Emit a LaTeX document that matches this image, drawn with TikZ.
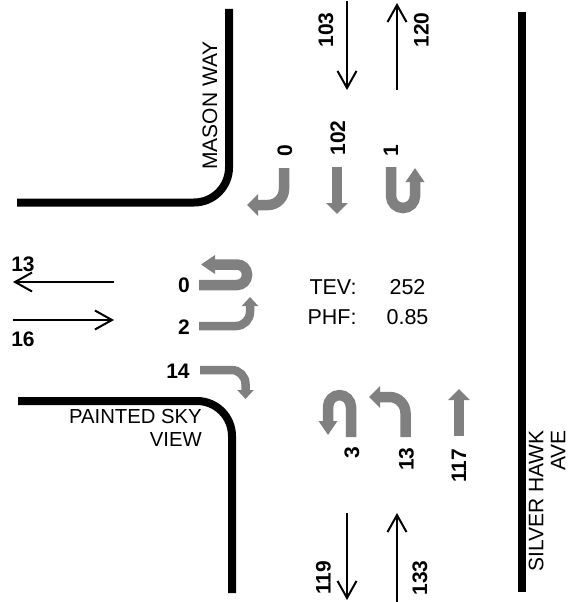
\documentclass[tikz,border=0pt]{standalone}
\usepackage{fontspec}
\setmainfont{Liberation Sans}
\usetikzlibrary{arrows.meta}
\tikzset{
    road/.style={line width=8pt, black},
    flow/.style={line width=2pt, black, -{Straight Barb[length=17pt, width=19pt, line width=2pt]}},
    turn/.style={line width=10.5pt, gray, rounded corners=#1, -{Triangle[length=11pt, width=21pt]}},
    turn/.default=16pt,
    uturn/.style={line width=10.5pt, gray, rounded corners=#1, -{Triangle[length=14pt, width=18pt]}},
    uturn/.default=12pt,
    slimturn/.style={line width=8.5pt, gray, rounded corners=#1, -{Triangle[length=9pt, width=16pt]}},
    slimturn/.default=14pt,
    vol/.style={font=\fontsize{21}{21}\selectfont\bfseries, inner sep=0pt},
    streetname/.style={font=\fontsize{20.3}{23}\selectfont, inner sep=0pt, align=right},
    sidename/.style={font=\fontsize{21}{22}\selectfont, inner sep=0pt, align=right},
    summary/.style={font=\fontsize{21.5}{23}\selectfont, inner sep=0pt},
}
\begin{document}
\begin{tikzpicture}[x=1pt, y=-1pt]
    \useasboundingbox (0,0) rectangle (569,602);

    % Roads
    \draw[road, rounded corners=35pt] (229,9) -- (229,202.5) -- (17,202.5);
    \draw[road, rounded corners=35pt] (18,401) -- (232,401) -- (232,593);
    \draw[road] (521.5,12) -- (521.5,592);

    % Through flows
    \draw[flow] (347,1) -- (347,90);
    \draw[flow] (397,90) -- (397,3);
    \draw[flow] (347,513) -- (347,600);
    \draw[flow] (397,602) -- (397,513);
    \draw[flow] (114,282) -- (13,282);
    \draw[flow] (13,320) -- (114,320);

    % North approach
    \draw[turn] (284,168) -- (284,205) -- (247,205);
    \draw[turn] (337,167) -- (337,214);
    \draw[uturn] (391,167) -- (391,208) -- (415,208) -- (415,168);

    % West approach
    \draw[uturn=10pt] (199,285) -- (247,285) -- (247,264.5) -- (201,264.5);
    \draw[slimturn] (199,326) -- (250,326) -- (250,297);
    \draw[slimturn] (200,370) -- (245.5,370) -- (245.5,399);

    % South approach
    \draw[uturn] (351,437) -- (351,395) -- (328,395) -- (328,435);
    \draw[turn] (405.5,437) -- (405.5,397) -- (369,397);
    \draw[turn] (459,436) -- (459,389);

    % Volumes
    \node[vol, rotate=90] (volNa) at (326,30) {103};
    \node[vol, rotate=90] (volNb) at (421.5,30) {120};
    \node[vol, rotate=90] (volNc) at (285,151) {0};
    \node[vol, rotate=90] (volNd) at (338,138) {102};
    \node[vol, rotate=90] (volNe) at (391,151) {1};
    \node[vol] (volWa) at (23,264) {13};
    \node[vol] (volWb) at (23,339) {16};
    \node[vol] (volWc) at (184,285) {0};
    \node[vol] (volWd) at (184,327) {2};
    \node[vol] (volWe) at (178,371) {14};
    \node[vol, rotate=90] (volSa) at (352,453) {3};
    \node[vol, rotate=90] (volSb) at (406.5,459) {13};
    \node[vol, rotate=90] (volSc) at (459,466) {117};
    \node[vol, rotate=90] (volSd) at (323.5,578) {119};
    \node[vol, rotate=90] (volSe) at (420,578) {133};

    % Street names
    \node[sidename, rotate=90] (mason) at (210,105.5) {MASON WAY};
    \node[streetname, anchor=north east] (painted) at (202,409) {PAINTED SKY\\VIEW};
    \node[sidename, rotate=90, anchor=north east] (silver) at (528.5,430) {SILVER HAWK\\AVE};

    % Summary
    \node[summary] (tevname) at (333,287) {TEV:};
    \node[summary] (tevval) at (407.5,287) {252};
    \node[summary] (phfname) at (332,317) {PHF:};
    \node[summary] (phfval) at (407.5,317) {0.85};
\end{tikzpicture}
\end{document}
